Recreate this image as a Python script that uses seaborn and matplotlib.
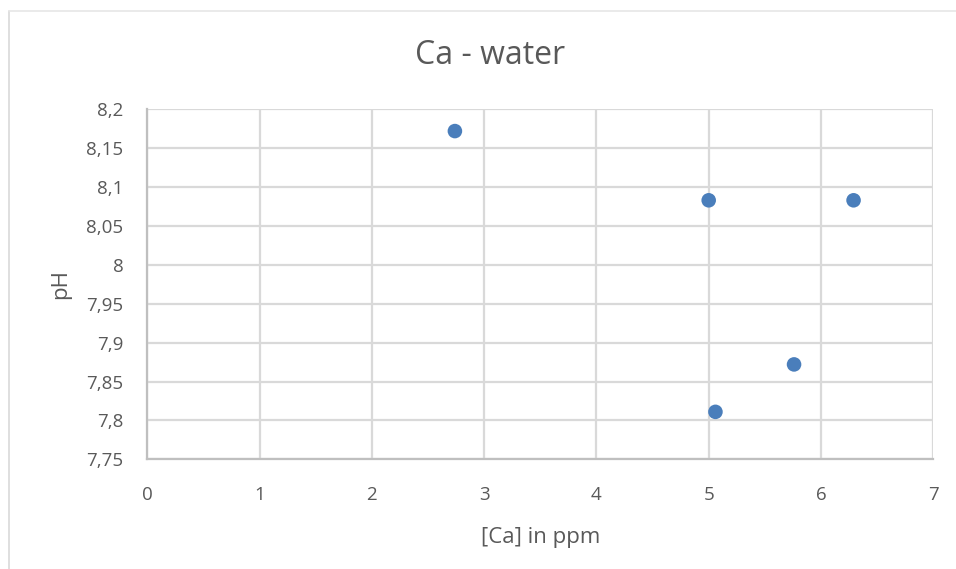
import matplotlib
matplotlib.use("Agg")
import matplotlib.pyplot as plt
from matplotlib.lines import Line2D
from matplotlib.ticker import FuncFormatter
import seaborn as sns
import pandas as pd

ca_ppm = [2.74, 5.00, 6.29, 5.76, 5.06]
ph = [8.172, 8.083, 8.083, 7.872, 7.811]
x_ticks = [0, 1, 2, 3, 4, 5, 6, 7]
y_ticks = [7.75, 7.8, 7.85, 7.9, 7.95, 8.0, 8.05, 8.1, 8.15, 8.2]

sns.set_theme(style="whitegrid")
plt.rcParams['font.family'] = ['Open Sans', 'DejaVu Sans']

df = pd.DataFrame({"ca": ca_ppm, "ph": ph})

fig = plt.figure(figsize=(9.56, 5.69), dpi=100)
ax = fig.add_axes([147.2 / 956, 1 - 459.3 / 569, (933.3 - 147.2) / 956, (459.3 - 109.3) / 569])

sns.scatterplot(data=df, x="ca", y="ph", ax=ax, s=110, color="#4a7ebb",
                edgecolor="none", zorder=3)

ax.set_xlim(0, 7)
ax.set_ylim(7.75, 8.2)
ax.set_xticks(x_ticks)
ax.set_yticks(y_ticks)

def comma_fmt(v, pos):
    s = f"{v:.2f}".rstrip("0").rstrip(".")
    return s.replace(".", ",")

ax.yaxis.set_major_formatter(FuncFormatter(comma_fmt))
ax.xaxis.set_major_formatter(FuncFormatter(comma_fmt))

ax.grid(True, color="#d9d9d9", linewidth=1.6)
ax.set_facecolor("white")
for side in ["top", "right"]:
    ax.spines[side].set_visible(False)
for side in ["left", "bottom"]:
    ax.spines[side].set_visible(True)
    ax.spines[side].set_color("#bfbfbf")
    ax.spines[side].set_linewidth(1.6)

ax.tick_params(axis="both", length=0, labelsize=13.5, labelcolor="#595959")
ax.tick_params(axis="y", pad=17)
ax.tick_params(axis="x", pad=19)

ax.set_xlabel("[Ca] in ppm", fontsize=16, color="#595959", labelpad=17)
ax.set_ylabel("pH", fontsize=16, color="#595959", labelpad=11)

fig.text(490 / 956, 1 - 55 / 569, "Ca - water", fontsize=23, color="#595959",
         ha="center", va="center")

# chart area border (left and top)
fig.add_artist(Line2D([8.5 / 956, 8.5 / 956], [1 - 11 / 569, 0], transform=fig.transFigure,
                      color="#d9d9d9", linewidth=1.2))
fig.add_artist(Line2D([8.5 / 956, 1], [1 - 11 / 569, 1 - 11 / 569], transform=fig.transFigure,
                      color="#e6e6e6", linewidth=1.2))

fig.savefig("out.png", dpi=100, facecolor="white")
